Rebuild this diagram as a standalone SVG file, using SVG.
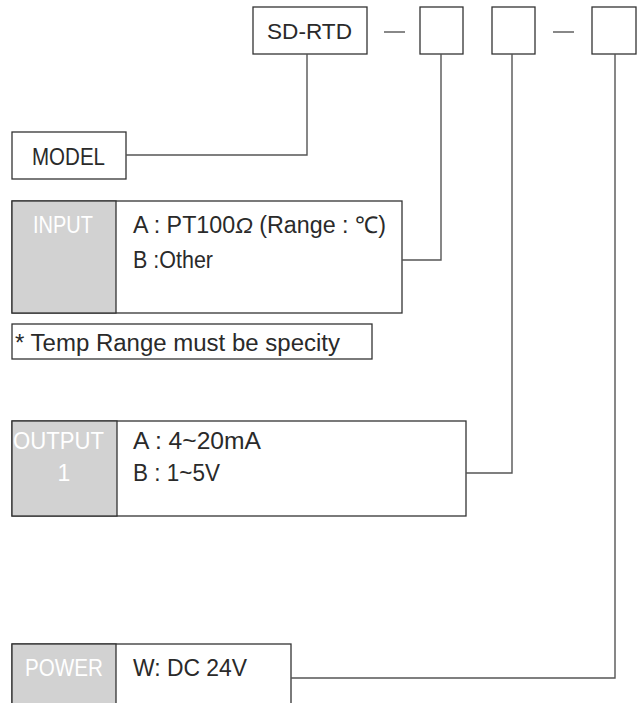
<svg xmlns="http://www.w3.org/2000/svg" width="637" height="703" viewBox="0 0 637 703">
<style>
.box{fill:#fff;stroke:#333;stroke-width:1.3}
.lab{fill:#d2d2d2;stroke:#333;stroke-width:1.3}
.t{font-family:"Liberation Sans",Arial,sans-serif;fill:#2a2a2a}
.w{font-family:"Liberation Sans",Arial,sans-serif;fill:#fff}
.c{fill:none;stroke:#555;stroke-width:1.4}
</style>
<rect width="637" height="703" fill="#fff"/>
<g id="code">
<rect class="box" x="253" y="7" width="114" height="47"/>
<text class="t" x="267" y="39" font-size="22" textLength="85" lengthAdjust="spacingAndGlyphs">SD-RTD</text>
<line class="c" x1="384" y1="32" x2="405" y2="32"/>
<rect class="box" x="420" y="7" width="43" height="47"/>
<rect class="box" x="492" y="7" width="43" height="47"/>
<line class="c" x1="553" y1="32" x2="574" y2="32"/>
<rect class="box" x="592" y="7" width="44" height="47"/>
</g>
<g id="model">
<rect class="box" x="12" y="132" width="114" height="47"/>
<text class="t" x="32" y="165" font-size="24" textLength="73" lengthAdjust="spacingAndGlyphs">MODEL</text>
</g>
<g id="input">
<rect class="box" x="12" y="201" width="390" height="112"/>
<rect class="lab" x="12" y="201" width="104" height="112"/>
<text class="w" x="33" y="233" font-size="23" textLength="60" lengthAdjust="spacingAndGlyphs">INPUT</text>
<text class="t" x="133" y="233" font-size="23" textLength="253" lengthAdjust="spacingAndGlyphs">A : PT100<tspan font-style="italic">Ω</tspan> (Range : ℃)</text>
<text class="t" x="133" y="268" font-size="23" textLength="80" lengthAdjust="spacingAndGlyphs">B :Other</text>
</g>
<g id="note">
<rect class="box" x="12" y="324" width="360" height="35"/>
<text class="t" x="15" y="351" font-size="23" textLength="325" lengthAdjust="spacingAndGlyphs">* Temp Range must be specity</text>
</g>
<g id="output">
<rect class="box" x="12" y="421" width="454" height="95"/>
<rect class="lab" x="12" y="421" width="105" height="95"/>
<text class="w" x="13" y="449" font-size="23" textLength="91" lengthAdjust="spacingAndGlyphs">OUTPUT</text>
<text class="w" x="64" y="481" font-size="23" text-anchor="middle">1</text>
<text class="t" x="133" y="449" font-size="23" textLength="128" lengthAdjust="spacingAndGlyphs">A : 4~20mA</text>
<text class="t" x="133" y="481" font-size="23" textLength="87" lengthAdjust="spacingAndGlyphs">B : 1~5V</text>
</g>
<g id="power">
<rect class="box" x="12" y="644" width="279" height="70"/>
<rect class="lab" x="12" y="644" width="104" height="70"/>
<text class="w" x="25" y="676" font-size="23" textLength="78" lengthAdjust="spacingAndGlyphs">POWER</text>
<text class="t" x="133" y="676" font-size="23" textLength="114" lengthAdjust="spacingAndGlyphs">W: DC 24V</text>
</g>
<g id="connectors">
<polyline class="c" points="126,155 307,155 307,54"/>
<polyline class="c" points="402,260 441,260 441,54"/>
<polyline class="c" points="466,473 512,473 512,54"/>
<polyline class="c" points="291,678 615,678 615,54"/>
</g>
</svg>
